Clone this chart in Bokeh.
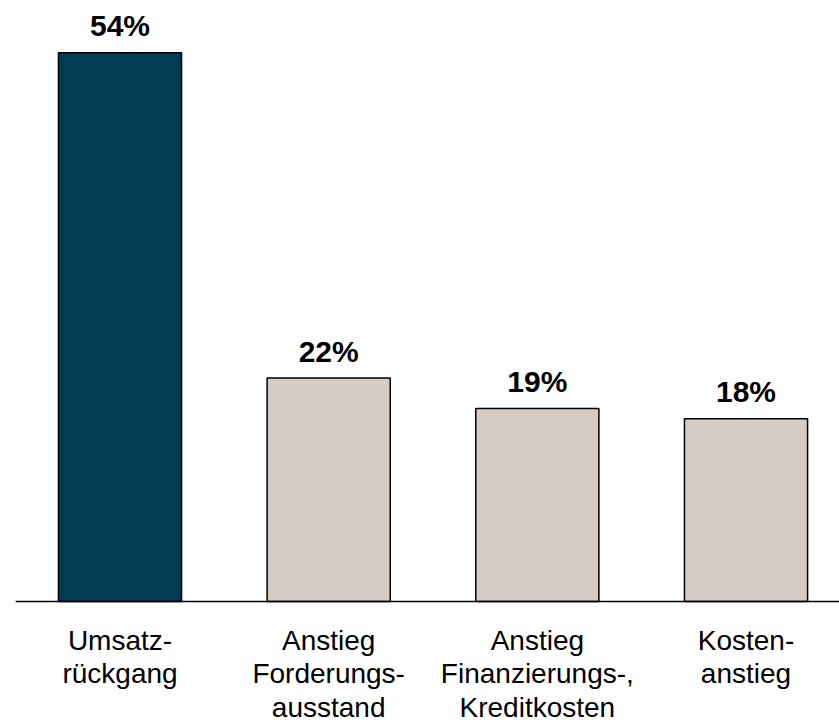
from bokeh.plotting import figure
from bokeh.models import ColumnDataSource, Range1d
from bokeh.core.properties import value
from bokeh.embed import file_html
from bokeh.resources import INLINE

categories = ["Umsatz-\nrückgang",
              "Anstieg\nForderungs-\nausstand",
              "Anstieg\nFinanzierungs-,\nKreditkosten",
              "Kosten-\nanstieg"]
values = [54, 22, 19, 18]
value_labels = ["54%", "22%", "19%", "18%"]

DARK = "#023B54"
BEIGE = "#D6CCC3"
bar_colors = [DARK, BEIGE, BEIGE, BEIGE]

xs = list(range(len(categories)))
src = ColumnDataSource(dict(x=xs, top=values, cat=categories, lab=value_labels,
                            color=bar_colors,
                            ly=[v + 2.65 for v in values],
                            cy=[-2.3] * len(values)))

p = figure(width=839, height=725, output_backend="svg", toolbar_location=None,
           x_range=Range1d(-0.5727, 3.448), y_range=Range1d(-12.2, 59.15),
           min_border=0, min_border_left=0, min_border_right=0,
           min_border_top=0, min_border_bottom=0)
p.axis.visible = False
p.grid.visible = False
p.outline_line_color = None
p.background_fill_color = "white"
p.border_fill_color = "white"

p.vbar(x="x", top="top", bottom=0, width=0.59, source=src,
       fill_color="color", line_color="black", line_width=1.5)

p.segment(x0=[-0.5], y0=[0], x1=[3.6], y1=[0], line_color="black", line_width=1.5)

p.text(x="x", y="ly", text="lab", source=src, text_align="center",
       text_baseline="alphabetic", text_font=value("Liberation Sans"),
       text_font_style="bold", text_font_size="30px", text_color="black")

p.text(x="x", y="cy", text="cat", source=src, text_align="center",
       text_baseline="top", text_font=value("Liberation Sans"),
       text_font_size="28px", text_color="black", text_line_height=1.08)

open("out.html", "w").write(file_html(p, INLINE))
